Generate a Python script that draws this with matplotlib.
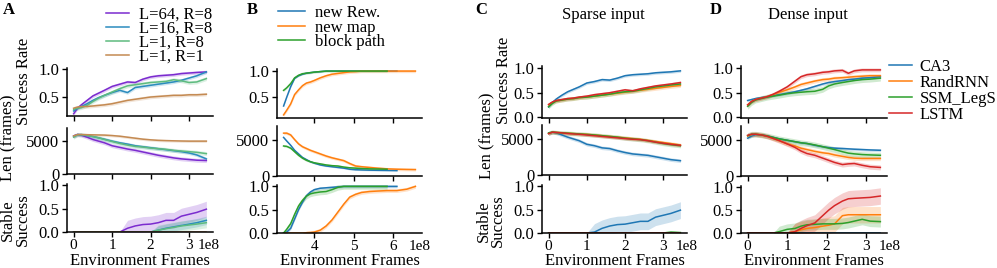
import numpy as np
import matplotlib
matplotlib.use("Agg")
import matplotlib.pyplot as plt
import matplotlib.transforms as mtransforms
from matplotlib.ticker import MultipleLocator, FuncFormatter

plt.rcParams['font.family'] = ['Liberation Serif', 'DejaVu Serif']
plt.rcParams['font.size'] = 12
plt.rcParams['axes.linewidth'] = 1.1

W, H = 997, 268
FS = 12

# ---------------- panel A : memory length / replay ----------------
a_frames = [0, 0.1, 0.2, 0.35, 0.5, 0.65, 0.8, 1.0, 1.2, 1.4, 1.6, 1.8, 2.0, 2.2, 2.4, 2.6, 2.8, 3.0, 3.2, 3.45]
a_labels = ['L=64, R=8', 'L=16, R=8', 'L=1, R=8', 'L=1, R=1']
a_colors = ['#7B2BCF', '#2B8CBE', '#5EBB7F', '#C48A52']

a_succ_l64 = [0.20, 0.30, 0.36, 0.44, 0.52, 0.57, 0.62, 0.69, 0.73, 0.77, 0.76, 0.82, 0.86, 0.88, 0.89, 0.90, 0.92, 0.93, 0.94, 0.95]
a_succ_l16 = [0.25, 0.30, 0.33, 0.38, 0.44, 0.49, 0.53, 0.58, 0.62, 0.58, 0.67, 0.69, 0.71, 0.73, 0.75, 0.77, 0.80, 0.84, 0.88, 0.95]
a_succ_l1r8 = [0.28, 0.30, 0.31, 0.35, 0.42, 0.48, 0.53, 0.59, 0.65, 0.70, 0.72, 0.74, 0.76, 0.77, 0.78, 0.81, 0.79, 0.76, 0.77, 0.83]
a_succ_l1r1 = [0.30, 0.32, 0.33, 0.33, 0.34, 0.35, 0.36, 0.38, 0.41, 0.44, 0.46, 0.48, 0.50, 0.51, 0.52, 0.53, 0.53, 0.54, 0.54, 0.55]

a_len_l64 = [5800, 6000, 5900, 5600, 5250, 5000, 4750, 4300, 4050, 3800, 3600, 3350, 3100, 2850, 2650, 2450, 2300, 2200, 2100, 2050]
a_len_l16 = [5700, 6000, 5950, 5850, 5700, 5500, 5300, 5000, 4750, 4550, 4300, 4150, 4000, 3850, 3700, 3550, 3400, 3200, 2900, 2300]
a_len_l1r8 = [5600, 5950, 6000, 5850, 5700, 5500, 5250, 4950, 4650, 4400, 4200, 4100, 3950, 3850, 3750, 3600, 3500, 3400, 3300, 3100]
a_len_l1r1 = [5800, 6000, 6000, 5980, 5960, 5940, 5920, 5850, 5750, 5600, 5450, 5300, 5200, 5120, 5080, 5050, 5020, 5000, 5000, 5000]

a_stab_l64 = [0, 0, 0, 0, 0, 0, 0, 0, 0.0, 0.08, 0.13, 0.16, 0.17, 0.20, 0.25, 0.25, 0.34, 0.38, 0.42, 0.49]
a_stab_l16 = [0, 0, 0, 0, 0, 0, 0, 0, 0, 0, 0, 0, 0, 0.04, 0.08, 0.11, 0.14, 0.17, 0.20, 0.25]
a_stab_l1r8 = [0, 0, 0, 0, 0, 0, 0, 0, 0, 0, 0, 0, 0, 0.04, 0.07, 0.10, 0.13, 0.15, 0.17, 0.20]
a_stab_l1r1 = [0] * 20

a_band = [[0.03, 0.03, 0.035, 0.03], [300, 250, 300, 200], [0.17, 0.09, 0.11, 0.0]]

# ---------------- panel B : transfer ----------------
b_frames = [3.22, 3.3, 3.4, 3.5, 3.6, 3.7, 3.8, 3.9, 4.0, 4.15, 4.3, 4.45, 4.6, 4.75, 4.9, 5.05, 5.2, 5.4, 5.6, 5.85, 6.1, 6.35, 6.57]
b_labels = ['new Rew.', 'new map', 'block path']
b_colors = ['#1f77b4', '#ff7f0e', '#2ca02c']

b_succ_rew = [0.33, 0.50, 0.70, 0.86, 0.91, 0.94, 0.96, 0.97, 0.98, 0.99, 1.0, 1.0, 1.0, 1.0, 1.0, 1.0, 1.0, 1.0, 1.0, 1.0, 1.0]
b_succ_map = [0.16, 0.25, 0.37, 0.55, 0.64, 0.72, 0.77, 0.79, 0.82, 0.87, 0.91, 0.94, 0.955, 0.97, 0.985, 0.99, 1.0, 1.0, 1.0, 1.0, 1.0, 1.0, 1.0]
b_succ_block = [0.63, 0.68, 0.76, 0.87, 0.92, 0.95, 0.96, 0.97, 0.98, 0.99, 1.0, 1.0, 1.0, 1.0, 1.0, 1.0, 1.0, 1.0, 1.0, 1.0]

b_len_rew = [5400, 4900, 4300, 3600, 3100, 2600, 2300, 2000, 1800, 1550, 1400, 1300, 1200, 1100, 950, 880, 850, 820, 800, 780, 760]
b_len_map = [6000, 6000, 5750, 5100, 4500, 4100, 3850, 3600, 3400, 3100, 2800, 2550, 2350, 2150, 1750, 1400, 1300, 1200, 1100, 1000, 950, 920, 900]
b_len_block = [4200, 4150, 3900, 3400, 2900, 2500, 2200, 2000, 1850, 1700, 1550, 1450, 1400, 1250, 1150, 1100, 1050, 1000, 980, 950]

b_stab_rew = [0.0, 0.02, 0.10, 0.30, 0.50, 0.66, 0.80, 0.88, 0.93, 0.96, 0.97, 0.98, 0.99, 1.0, 1.0, 1.0, 1.0, 1.0, 1.0, 1.0, 1.0]
b_stab_map = [0, 0, 0, 0, 0, 0, 0.005, 0.01, 0.02, 0.06, 0.15, 0.28, 0.45, 0.62, 0.77, 0.83, 0.87, 0.89, 0.90, 0.91, 0.91, 0.94, 1.0]
b_stab_block = [0.0, 0.08, 0.20, 0.40, 0.58, 0.70, 0.79, 0.84, 0.86, 0.88, 0.89, 0.93, 0.98, 1.0, 1.0, 1.0, 1.0, 1.0, 1.0, 1.0]

b_band = [[0.01, 0.03, 0.02], [100, 200, 150], [0.03, 0.04, 0.06]]

# ---------------- panels C / D : sparse vs dense input ----------------
cd_labels = ['CA3', 'RandRNN', 'SSM_LegS', 'LSTM']
cd_colors = ['#1f77b4', '#ff7f0e', '#2ca02c', '#d62728']

c_frames = [0, 0.1, 0.2, 0.35, 0.5, 0.65, 0.8, 1.0, 1.2, 1.4, 1.6, 1.8, 2.0, 2.2, 2.4, 2.6, 2.8, 3.0, 3.2, 3.45]
c_succ_ca3 = [0.21, 0.30, 0.37, 0.45, 0.52, 0.57, 0.62, 0.70, 0.73, 0.77, 0.76, 0.80, 0.85, 0.87, 0.88, 0.89, 0.91, 0.92, 0.93, 0.95]
c_succ_rand = [0.25, 0.30, 0.33, 0.35, 0.37, 0.38, 0.40, 0.41, 0.43, 0.45, 0.47, 0.49, 0.51, 0.53, 0.55, 0.57, 0.59, 0.61, 0.63, 0.65]
c_succ_ssm = [0.21, 0.28, 0.33, 0.35, 0.37, 0.38, 0.40, 0.41, 0.43, 0.45, 0.47, 0.50, 0.52, 0.53, 0.56, 0.59, 0.62, 0.64, 0.66, 0.68]
c_succ_lstm = [0.26, 0.31, 0.34, 0.36, 0.38, 0.39, 0.41, 0.43, 0.46, 0.48, 0.50, 0.53, 0.56, 0.54, 0.58, 0.61, 0.64, 0.66, 0.68, 0.71]

c_len_ca3 = [5800, 6000, 5900, 5600, 5300, 5050, 4800, 4300, 4100, 3800, 3700, 3400, 3150, 2950, 2850, 2750, 2550, 2350, 2150, 2000]
c_len_rand = [5800, 6000, 5950, 5900, 5850, 5800, 5750, 5700, 5600, 5500, 5400, 5300, 5200, 5100, 5000, 4850, 4700, 4550, 4400, 4200]
c_len_ssm = [5900, 6000, 5950, 5900, 5850, 5800, 5750, 5680, 5600, 5500, 5400, 5300, 5150, 5050, 4950, 4800, 4600, 4400, 4250, 4100]
c_len_lstm = [5800, 6000, 5950, 5900, 5800, 5750, 5700, 5600, 5500, 5400, 5300, 5200, 5100, 5000, 4950, 4800, 4600, 4450, 4300, 4150]

c_stab_ca3 = [0, 0, 0, 0, 0, 0, 0, 0, 0.02, 0.10, 0.15, 0.18, 0.19, 0.22, 0.25, 0.25, 0.34, 0.38, 0.42, 0.49]
c_stab_rand = [0] * 20
c_stab_ssm = [0] * 18 + [0.02, 0.01]
c_stab_lstm = [0] * 20

c_band = [[0.03, 0.04, 0.04, 0.03], [250, 250, 300, 200], [0.18, 0.0, 0.02, 0.0]]

d_frames = [0, 0.1, 0.2, 0.35, 0.5, 0.65, 0.8, 1.0, 1.2, 1.35, 1.5, 1.7, 1.9, 2.05, 2.2, 2.4, 2.55, 2.7, 2.9, 3.1, 3.36]
d_succ_ca3 = [0.34, 0.36, 0.38, 0.40, 0.42, 0.44, 0.46, 0.49, 0.52, 0.55, 0.58, 0.63, 0.68, 0.71, 0.73, 0.75, 0.77, 0.78, 0.80, 0.81, 0.83]
d_succ_rand = [0.25, 0.32, 0.36, 0.39, 0.42, 0.46, 0.51, 0.56, 0.62, 0.67, 0.70, 0.74, 0.77, 0.78, 0.80, 0.81, 0.82, 0.83, 0.84, 0.85, 0.85]
d_succ_ssm = [0.22, 0.30, 0.35, 0.38, 0.41, 0.43, 0.45, 0.48, 0.50, 0.51, 0.52, 0.53, 0.57, 0.64, 0.68, 0.71, 0.73, 0.75, 0.77, 0.78, 0.80]
d_succ_lstm = [0.25, 0.32, 0.36, 0.39, 0.42, 0.47, 0.53, 0.62, 0.74, 0.83, 0.87, 0.89, 0.92, 0.93, 0.95, 0.96, 0.90, 0.95, 0.97, 0.97, 0.97]

d_len_ca3 = [5300, 5600, 5800, 5750, 5600, 5400, 5200, 5000, 4800, 4650, 4550, 4300, 4100, 3980, 3900, 3850, 3800, 3750, 3700, 3650, 3600]
d_len_rand = [5600, 5800, 5850, 5750, 5550, 5250, 4950, 4500, 4200, 3900, 3700, 3450, 3250, 3150, 2950, 2750, 2600, 2500, 2450, 2450, 2450]
d_len_ssm = [5650, 5850, 5850, 5750, 5600, 5400, 5200, 5000, 4800, 4650, 4550, 4350, 4100, 3900, 3700, 3400, 3200, 3100, 3000, 2950, 2900]
d_len_lstm = [5700, 5850, 5850, 5750, 5550, 5250, 4950, 4500, 4000, 3500, 3150, 2900, 2500, 2200, 1900, 1600, 1700, 1750, 1500, 1300, 1200]

d_stab_ca3 = [0] * 21
d_stab_rand = [0, 0, 0, 0, 0, 0, 0, 0.0, 0.03, 0.07, 0.10, 0.12, 0.15, 0.17, 0.20, 0.38, 0.40, 0.40, 0.40, 0.40, 0.40]
d_stab_ssm = [0, 0, 0, 0, 0, 0, 0.03, 0.08, 0.10, 0.15, 0.18, 0.19, 0.20, 0.20, 0.20, 0.21, 0.23, 0.26, 0.30, 0.26, 0.25]
d_stab_lstm = [0, 0, 0, 0, 0, 0, 0, 0, 0.03, 0.10, 0.16, 0.22, 0.38, 0.50, 0.60, 0.70, 0.75, 0.76, 0.77, 0.78, 0.81]

d_band = [[0.03, 0.04, 0.06, 0.04], [200, 300, 400, 350], [0.0, 0.18, 0.12, 0.18]]


def px_axes(fig, left, right, top, bottom):
    return fig.add_axes([left / W, 1 - bottom / H, (right - left) / W, (bottom - top) / H])


def draw_group(fig, xs, rows, bands, colors, rect, ylims, offset_dx=4):
    left, right, row_px = rect
    axes = []
    for r, (top, bottom) in enumerate(row_px):
        ax = px_axes(fig, left, right, top, bottom)
        for i, (y, c) in enumerate(zip(rows[r], colors)):
            x = np.array(xs[:len(y)]) * 1e8
            y = np.array(y, dtype=float)
            b = bands[r][i]
            if r == 2:
                b = b * (y > 0)
            ax.fill_between(x, y - b, y + b, color=c, alpha=0.22, lw=0)
            ax.plot(x, y, color=c, lw=1.1)
        ax.spines['top'].set_visible(False)
        ax.spines['right'].set_visible(False)
        for s in ax.spines.values():
            s.set_zorder(5)
        ax.set_ylim(*ylims[r])
        ax.yaxis.set_major_locator(MultipleLocator(5000 if r == 1 else 0.5))
        ax.xaxis.set_major_locator(MultipleLocator(1e8))
        ax.xaxis.set_major_formatter(FuncFormatter(lambda v, p: '%d' % round(v / 1e8)))
        ax.tick_params(axis='y', labelsize=FS, length=3.5, width=1.0, pad=2)
        ax.tick_params(axis='x', labelsize=11, length=3.5, width=1.0, pad=1.2)
        if r < 2:
            ax.tick_params(labelbottom=False)
        axes.append(ax)
    axes[2].annotate('1e8', xy=(1, 0), xycoords='axes fraction', xytext=(offset_dx, -4.7),
                     textcoords='offset points', ha='right', va='top', fontsize=11)
    axes[2].set_xlabel('Environment Frames', fontsize=FS, va='baseline')
    axes[2].xaxis.set_label_coords(
        0.5, 1 - 265 / H,
        transform=mtransforms.blended_transform_factory(axes[2].transAxes, fig.transFigure))
    lo = min(a.get_xlim()[0] for a in axes)
    hi = max(a.get_xlim()[1] for a in axes)
    for a in axes:
        a.set_xlim(lo, hi)
    return axes


def add_ylabels(axes, xpos):
    axes[0].set_ylabel('Success Rate', fontsize=FS)
    axes[1].set_ylabel('Len (frames)', fontsize=FS)
    axes[2].set_ylabel('Stable\nSuccess', fontsize=FS, linespacing=0.85)
    axes[0].yaxis.set_label_coords(xpos[0], 0.72)
    axes[1].yaxis.set_label_coords(xpos[1], 0.78)
    axes[2].yaxis.set_label_coords(xpos[2], 0.25)


fig = plt.figure(figsize=(W / 100, H / 100), dpi=100)

ax_a = draw_group(fig, a_frames,
                  [[a_succ_l64, a_succ_l16, a_succ_l1r8, a_succ_l1r1],
                   [a_len_l64, a_len_l16, a_len_l1r8, a_len_l1r1],
                   [a_stab_l64, a_stab_l16, a_stab_l1r8, a_stab_l1r1]],
                  a_band, a_colors,
                  (67, 213, [(68, 116), (128, 174), (184, 232)]),
                  [(0.16, 1.02), (0, 7000), (0, 1.03)], offset_dx=4.5)
add_ylabels(ax_a, [-0.24, -0.35, -0.25])

ax_b = draw_group(fig, b_frames,
                  [[b_succ_rew, b_succ_map, b_succ_block],
                   [b_len_rew, b_len_map, b_len_block],
                   [b_stab_rew, b_stab_map, b_stab_block]],
                  b_band, b_colors,
                  (277, 422, [(69, 118), (126, 176), (185, 233)]),
                  [(0.10, 1.04), (0, 7000), (0, 1.03)], offset_dx=6)

ax_c = draw_group(fig, c_frames,
                  [[c_succ_ca3, c_succ_rand, c_succ_ssm, c_succ_lstm],
                   [c_len_ca3, c_len_rand, c_len_ssm, c_len_lstm],
                   [c_stab_ca3, c_stab_rand, c_stab_ssm, c_stab_lstm]],
                  c_band, cd_colors,
                  (542, 687, [(66, 118), (125, 175), (185, 233)]),
                  [(-0.02, 1.05), (0, 7000), (0, 1.03)], offset_dx=8)
add_ylabels(ax_c, [-0.21, -0.32, -0.25])

ax_d = draw_group(fig, d_frames,
                  [[d_succ_ca3, d_succ_rand, d_succ_ssm, d_succ_lstm],
                   [d_len_ca3, d_len_rand, d_len_ssm, d_len_lstm],
                   [d_stab_ca3, d_stab_rand, d_stab_ssm, d_stab_lstm]],
                  d_band, cd_colors,
                  (741, 887, [(66, 118), (126, 176), (186, 233)]),
                  [(-0.02, 1.05), (0, 7000), (0, 1.03)], offset_dx=9.5)

# legends
leg_kw = dict(loc='upper left', frameon=False, fontsize=FS,
              borderpad=0, borderaxespad=0)
fig.legend(ax_a[0].get_lines(), a_labels, bbox_to_anchor=(106 / W, 1 - 7 / H),
           handlelength=1.4, handletextpad=0.6, labelspacing=-0.12, **leg_kw)
fig.legend(ax_b[0].get_lines(), b_labels, bbox_to_anchor=(278 / W, 1 - 5 / H),
           handlelength=1.6, handletextpad=0.6, labelspacing=-0.08, **leg_kw)
fig.legend(ax_d[0].get_lines(), cd_labels, bbox_to_anchor=(889 / W, 1 - 59 / H),
           handlelength=1.35, handletextpad=0.5, labelspacing=0.0, **leg_kw)

# titles and panel letters
fig.text(603 / W, 1 - 15 / H, 'Sparse input', ha='center', va='center', fontsize=FS)
fig.text(808 / W, 1 - 15 / H, 'Dense input', ha='center', va='center', fontsize=FS)
for letter, xp in [('A', 3), ('B', 247), ('C', 475), ('D', 710)]:
    fig.text(xp / W, 1 - 10 / H, letter, ha='left', va='center', fontsize=FS, fontweight='bold')

fig.savefig('out.png', dpi=100)
